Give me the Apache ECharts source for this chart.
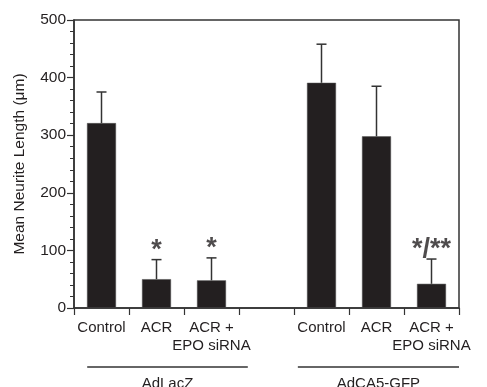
<!DOCTYPE html>
<html>
<head>
<meta charset="utf-8">
<script src="https://cdn.jsdelivr.net/npm/echarts@6/dist/echarts.min.js"></script>
<style>html,body{margin:0;padding:0;background:#fff;}#c{width:487px;height:387px;}</style>
</head>
<body>
<div id="c"></div>
<script>
const categories = ['Control', 'ACR', 'ACR +\nEPO siRNA', '', 'Control', 'ACR', 'ACR +\nEPO siRNA'];
const means = [321, 50, 48, null, 391, 298, 42];
const errors = [54, 34, 39, null, 67, 87, 43];
const significance = ['', '*', '*', '', '', '', '*/**'];
const groups = ['AdLacZ', 'AdCA5-GFP'];
const groupSpans = [[-0.26, 2.66], [3.57, 6.5]];
const yTicks = [0, 100, 200, 300, 400, 500];

const FONT = '"Liberation Sans", Arial, Helvetica, sans-serif';
const INK = '#231f20';

const chart = echarts.init(document.getElementById('c'), null, {renderer: 'canvas'});
const errData = means.map((m, i) => m == null ? null : [i, m, m + errors[i]]).filter(d => d);
const sigData = means.map((m, i) => significance[i] ? {value: [i, m + errors[i]], label: {formatter: significance[i]}} : null).filter(d => d);

chart.setOption({
  animation: false,
  grid: {left: 74, right: 28, top: 20, bottom: 79, show: true, borderColor: '#333', borderWidth: 1.5, backgroundColor: 'transparent'},
  xAxis: {
    type: 'category', data: categories,
    axisLine: {lineStyle: {color: '#333', width: 1.5}},
    axisTick: {show: true, length: 7, lineStyle: {color: '#333', width: 1.2}},
    axisLabel: {fontFamily: FONT, fontSize: 15, color: INK, margin: 11, lineHeight: 18, interval: 0},
    splitLine: {show: false}
  },
  yAxis: {
    type: 'value', min: yTicks[0], max: yTicks[yTicks.length - 1], interval: 100,
    name: 'Mean Neurite Length (μm)', nameLocation: 'middle', nameGap: 46,
    nameTextStyle: {fontFamily: FONT, fontSize: 15.5, color: INK},
    axisLine: {show: true, lineStyle: {color: '#333', width: 1.5}},
    axisTick: {show: true, length: 7, lineStyle: {color: '#333', width: 1.2}},
    minorTick: {show: true, splitNumber: 5, length: 4, lineStyle: {color: '#333', width: 1}},
    axisLabel: {fontFamily: FONT, fontSize: 15.5, color: INK, margin: 8},
    splitLine: {show: false}
  },
  series: [
    {
      type: 'bar', data: means, barWidth: 29,
      itemStyle: {color: INK, borderColor: '#555', borderWidth: 0.5}
    },
    {
      type: 'custom', data: errData, z: 3,
      renderItem: function (params, api) {
        const x = api.value(0);
        const lo = api.coord([x, api.value(1)]);
        const hi = api.coord([x, api.value(2)]);
        const cap = 5;
        return {
          type: 'group',
          children: [
            {type: 'line', shape: {x1: lo[0], y1: lo[1], x2: hi[0], y2: hi[1]}, style: {stroke: '#333', lineWidth: 1.5}},
            {type: 'line', shape: {x1: hi[0] - cap, y1: hi[1], x2: hi[0] + cap, y2: hi[1]}, style: {stroke: '#333', lineWidth: 1.5}}
          ]
        };
      }
    },
    {
      type: 'scatter', data: sigData, symbolSize: 0, silent: true,
      label: {show: true, position: 'top', distance: 0, offset: [0, 4], fontFamily: FONT, fontWeight: 'bold', fontSize: 27, color: INK}
    }
  ]
});

function drawGroups() {
  const yLine = 367;
  const yText = 384;
  const c0 = chart.convertToPixel({xAxisIndex: 0}, 0);
  const step = chart.convertToPixel({xAxisIndex: 0}, 1) - c0;
  const els = [];
  groupSpans.forEach((span, g) => {
    const x0 = c0 + span[0] * step;
    const x1 = c0 + span[1] * step;
    els.push({type: 'line', shape: {x1: x0, y1: yLine, x2: x1, y2: yLine}, style: {stroke: '#333', lineWidth: 1.5}});
    els.push({type: 'text', x: (x0 + x1) / 2, y: yText, style: {text: groups[g], font: '15px ' + FONT, fill: INK, align: 'center', verticalAlign: 'middle'}});
  });
  chart.setOption({graphic: {elements: els}});
}
drawGroups();
</script>
</body>
</html>
